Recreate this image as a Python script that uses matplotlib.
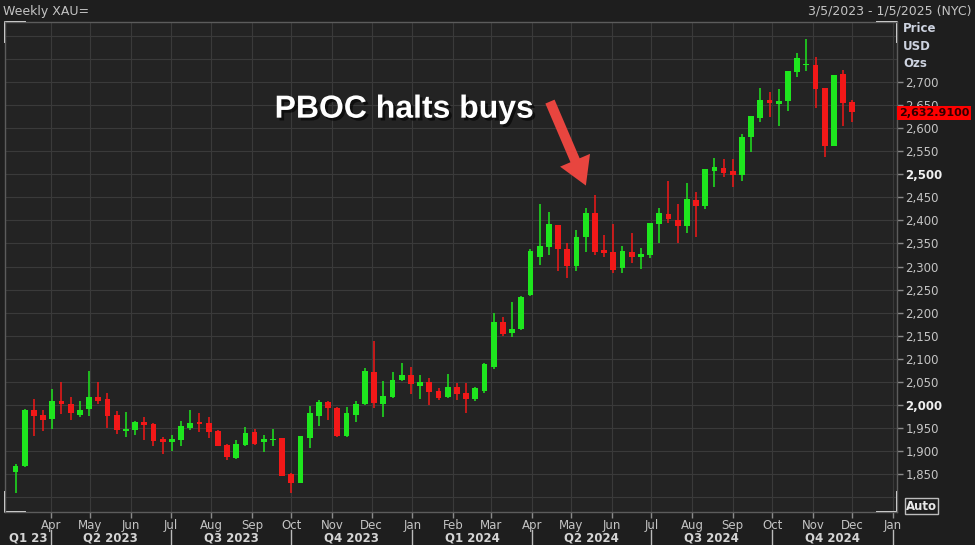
import numpy as np
import pandas as pd
import matplotlib
matplotlib.use("Agg")
import matplotlib.pyplot as plt
import matplotlib.dates as mdates
import matplotlib.transforms as mtransforms
import matplotlib.patheffects as pe

# weekly XAU candles, week starting 2023-03-05
dates = pd.date_range("2023-03-05", periods=92, freq="7D")
opens = [1855, 1868, 1988, 1978, 1970, 2009, 2002, 1978, 1991, 2017,
         2012, 1978, 1944, 1946, 1962, 1958, 1926, 1919, 1924, 1951,
         1963, 1960, 1944, 1913, 1886, 1913, 1941, 1919, 1924, 1928,
         1850, 1830, 1929, 1975, 2006, 1993, 1933, 1978, 2002, 2072,
         2002, 2018, 2054, 2064, 2042, 2050, 2030, 2018, 2040, 2025,
         2013, 2030, 2082, 2180, 2155, 2165, 2238, 2321, 2343, 2390,
         2337, 2301, 2363, 2417, 2336, 2332, 2296, 2332, 2321, 2325,
         2392, 2413, 2401, 2388, 2444, 2431, 2508, 2513, 2506, 2498,
         2580, 2621, 2661, 2652, 2659, 2722, 2737, 2737, 2688, 2562,
         2717, 2657]
highs = [1871, 1991, 2012, 1989, 2034, 2050, 2018, 2009, 2074, 2050,
         2025, 1987, 1985, 1965, 1973, 1960, 1930, 1935, 1965, 1989,
         1983, 1973, 1946, 1915, 1924, 1953, 1947, 1934, 1947, 1929,
         1852, 1933, 1998, 2011, 2009, 1996, 1995, 2009, 2080, 2139,
         2051, 2072, 2092, 2083, 2064, 2059, 2036, 2067, 2047, 2047,
         2040, 2092, 2199, 2190, 2224, 2237, 2338, 2436, 2419, 2390,
         2350, 2379, 2426, 2455, 2368, 2392, 2345, 2373, 2340, 2394,
         2426, 2486, 2436, 2482, 2461, 2511, 2536, 2532, 2532, 2587,
         2626, 2688, 2679, 2684, 2724, 2762, 2794, 2755, 2688, 2715,
         2726, 2662]
lows = [1809, 1866, 1933, 1944, 1948, 1980, 1967, 1973, 1976, 2001,
        1951, 1937, 1931, 1935, 1924, 1910, 1893, 1901, 1912, 1946,
        1942, 1928, 1910, 1881, 1882, 1911, 1913, 1899, 1910, 1845,
        1809, 1830, 1907, 1955, 1967, 1930, 1930, 1964, 2000, 1993,
        1973, 2016, 2053, 2024, 2013, 2000, 2011, 2014, 2011, 1983,
        2009, 2025, 2077, 2150, 2147, 2163, 2236, 2303, 2325, 2291,
        2275, 2291, 2332, 2325, 2321, 2285, 2287, 2307, 2294, 2318,
        2350, 2394, 2352, 2372, 2363, 2424, 2472, 2495, 2473, 2486,
        2549, 2614, 2625, 2605, 2638, 2711, 2724, 2644, 2538, 2562,
        2605, 2614]
closes = [1868, 1989, 1976, 1967, 2009, 2002, 1983, 1989, 2017, 2009,
          1976, 1946, 1948, 1963, 1956, 1922, 1919, 1926, 1955, 1960,
          1959, 1941, 1911, 1887, 1915, 1940, 1915, 1926, 1927, 1846,
          1830, 1933, 1982, 2007, 1993, 1933, 1983, 2002, 2074, 2004,
          2020, 2054, 2064, 2046, 2050, 2027, 2016, 2040, 2023, 2012,
          2036, 2088, 2179, 2154, 2165, 2235, 2334, 2344, 2392, 2338,
          2301, 2363, 2417, 2332, 2329, 2293, 2334, 2321, 2327, 2394,
          2415, 2402, 2387, 2446, 2432, 2511, 2516, 2503, 2498, 2580,
          2626, 2661, 2654, 2659, 2724, 2751, 2740, 2685, 2561, 2715,
          2654, 2634]
last_price = 2632.91

month_ticks = pd.date_range("2023-04-01", "2025-01-01", freq="MS")
quarter_starts = pd.date_range("2023-04-01", "2025-01-01", freq="QS")
quarter_labels = ["Q1 23", "Q2 2023", "Q3 2023", "Q4 2023", "Q1 2024",
                  "Q2 2024", "Q3 2024", "Q4 2024"]

GREEN = "#1ee61e"
RED = "#f21818"
BG = "#1e1e1e"
PLOT_BG = "#232323"
GRID = "#3a3a3a"
TXT = "#c4c4c4"

fig = plt.figure(figsize=(9.75, 5.45), dpi=100, facecolor=BG)
ax = fig.add_axes([5 / 975, 1 - 512 / 545, 892 / 975, 490 / 545])
ax.set_facecolor(PLOT_BG)

x = mdates.date2num(dates)
o = np.array(opens, float)
h = np.array(highs, float)
l = np.array(lows, float)
c = np.array(closes, float)
up = c >= o
cols = np.where(up, GREEN, RED)
ax.vlines(x, l, h, colors=cols, lw=1.1, zorder=3)
body_lo = np.minimum(o, c)
body_h = np.maximum(np.abs(c - o), 3)
ax.bar(x, body_h, bottom=body_lo, width=4.4, color=cols, zorder=4, linewidth=0)

ax.set_xlim(mdates.date2num(pd.Timestamp("2023-02-25")),
            mdates.date2num(pd.Timestamp("2025-01-04")))
ax.set_ylim(1768, 2830)

# grid
for v in np.arange(1800, 2850, 50):
    ax.axhline(v, color=GRID, lw=0.8, zorder=1)
for m in month_ticks:
    ax.axvline(mdates.date2num(m), color=GRID, lw=0.8, zorder=1)

# y axis on the right
ax.yaxis.tick_right()
yt = np.arange(1850, 2701, 50)
ax.set_yticks(yt)
ax.set_yticklabels([f"{v:,}" for v in yt])
ax.tick_params(axis="y", colors="#8a8a8a", labelcolor=TXT, labelsize=8.5,
               length=4, width=1, pad=2, direction="out")
for t, v in zip(ax.get_yticklabels(), yt):
    if v in (2000, 2500):
        t.set_fontweight("bold")
        t.set_color("#f0f0f0")

# x axis months
ax.set_xticks(mdates.date2num(month_ticks))
ax.set_xticklabels([m.strftime("%b") for m in month_ticks])
ax.tick_params(axis="x", colors="#8a8a8a", labelcolor=TXT, labelsize=8.5,
               length=4, width=1, pad=1, direction="out")

for s in ax.spines.values():
    s.set_color("#5c5c5c")
    s.set_linewidth(1)

# quarter labels and separators
trans = ax.get_xaxis_transform()
edges = [ax.get_xlim()[0]] + list(mdates.date2num(quarter_starts))
for i, lab in enumerate(quarter_labels):
    mid = (edges[i] + edges[i + 1]) / 2
    ax.text(mid, -26 / 490, lab, transform=trans, ha="center", va="center",
            fontsize=8.5, fontweight="bold", color="#d4d4d4")
for q in mdates.date2num(quarter_starts):
    ax.plot([q, q], [-18 / 490, -34 / 490], transform=trans, color="#bbbbbb",
            lw=1, clip_on=False)

# white corner brackets
corner = dict(color="#e6e6e6", lw=1.4, clip_on=False, transform=ax.transAxes)
dx, dy = 20 / 892, 20 / 490
ax.plot([0, 0, dx], [dy, 0, 0], **corner)
ax.plot([0, 0, dx], [1 - dy, 1, 1], **corner)
ax.plot([1 - dx, 1, 1], [1, 1, 1 - dy], **corner)
ax.plot([1 - dx, 1, 1], [0, 0, dy], **corner)

# header texts
fig.text(3 / 975, 1 - 11 / 545, "Weekly XAU=", ha="left", va="center",
         fontsize=9, color=TXT)
fig.text(972 / 975, 1 - 11 / 545, "3/5/2023 - 1/5/2025 (NYC)", ha="right",
         va="center", fontsize=9, color=TXT)
for i, lab in enumerate(["Price", "USD", "Ozs"]):
    fig.text(903 / 975, 1 - (29 + 17 * i) / 545, lab, ha="left", va="center",
             fontsize=8.5, fontweight="bold", color="#cdd3e0")

# last price tag
ytrans = mtransforms.blended_transform_factory(ax.transAxes, ax.transData)
ax.text(1.002, last_price, f"{last_price:,.4f}", transform=ytrans, ha="left",
        va="center", fontsize=8, fontweight="bold", color="#300000",
        bbox=dict(boxstyle="square,pad=0.2", fc="#ff0000", ec="none"),
        clip_on=False, zorder=10)

# Auto box
fig.text(906 / 975, 1 - 506 / 545, "Auto", ha="left", va="center", fontsize=8.5,
         fontweight="bold", color="#e8e8e8",
         bbox=dict(boxstyle="square,pad=0.12", fc=BG, ec="#bdbdbd", lw=1))

# annotation
ax.text(mdates.date2num(pd.Timestamp("2023-12-26")), 2640, "PBOC halts buys",
        ha="center", va="center", fontsize=23, fontweight="bold",
        color="#ffffff", family=["Liberation Sans", "DejaVu Sans"], zorder=6,
        path_effects=[pe.withSimplePatchShadow(offset=(2, -2),
                                               shadow_rgbFace="#000000",
                                               alpha=0.6)])
ax.annotate("", xy=(mdates.date2num(pd.Timestamp("2024-05-13")), 2470),
            xytext=(mdates.date2num(pd.Timestamp("2024-04-14")), 2663),
            arrowprops=dict(arrowstyle="simple,head_length=1.1,head_width=1.3,tail_width=0.4",
                            mutation_scale=18, fc="#e8453f", ec="none"),
            zorder=6)

fig.savefig("out.png", dpi=100, facecolor=BG)
